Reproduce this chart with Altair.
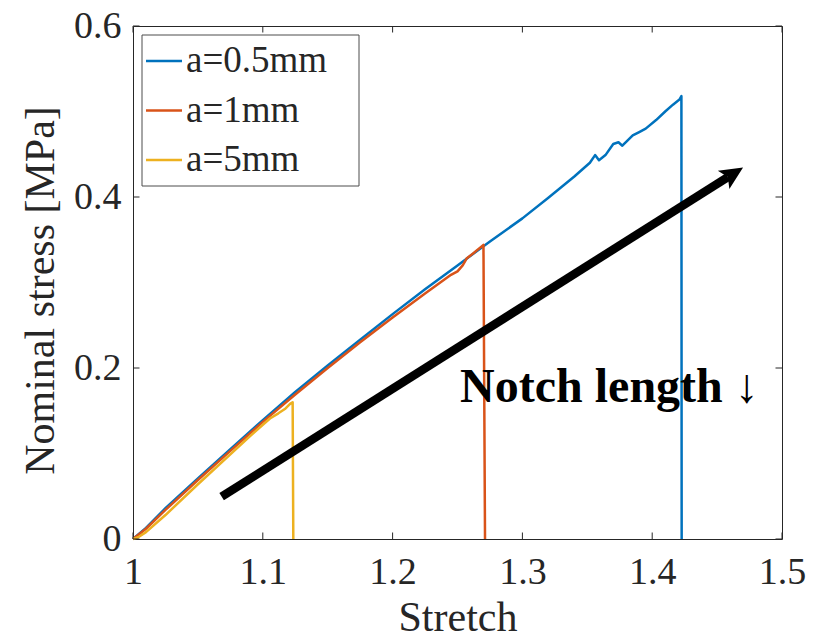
import math

import altair as alt
import pandas as pd

# ---------------------------------------------------------------- data
series = ["a=0.5mm", "a=1mm", "a=5mm"]
colors = ["#0072BD", "#D95319", "#EDB120"]

stretch_05 = [1.000, 1.010, 1.025, 1.050, 1.075, 1.100, 1.125, 1.150, 1.175,
              1.200, 1.225, 1.250, 1.275, 1.300, 1.320, 1.340, 1.352, 1.356,
              1.359, 1.364, 1.370, 1.374, 1.377, 1.385, 1.390, 1.395, 1.403,
              1.410, 1.416, 1.421, 1.4225, 1.4227]
stress_05 = [0.000, 0.013, 0.036, 0.071, 0.105, 0.139, 0.172, 0.203, 0.233,
             0.263, 0.292, 0.320, 0.348, 0.375, 0.399, 0.424, 0.440, 0.449,
             0.443, 0.449, 0.462, 0.464, 0.460, 0.472, 0.476, 0.480, 0.490,
             0.500, 0.508, 0.514, 0.518, 0.000]

stretch_1 = [1.000, 1.010, 1.025, 1.050, 1.075, 1.100, 1.125, 1.150, 1.175,
             1.200, 1.225, 1.245, 1.250, 1.254, 1.257, 1.262, 1.270, 1.2712]
stress_1 = [0.000, 0.012, 0.034, 0.069, 0.103, 0.137, 0.169, 0.200, 0.230,
            0.259, 0.287, 0.309, 0.313, 0.320, 0.328, 0.334, 0.344, 0.000]

stretch_5 = [1.000, 1.004, 1.010, 1.025, 1.050, 1.075, 1.090, 1.1055, 1.112,
             1.117, 1.121, 1.1230, 1.1235]
stress_5 = [0.000, 0.002, 0.008, 0.028, 0.064, 0.099, 0.120, 0.141, 0.147,
            0.152, 0.158, 0.160, 0.000]

x_ticks = [1.0, 1.1, 1.2, 1.3, 1.4, 1.5]
y_ticks = [0.0, 0.2, 0.4, 0.6]

arrow_tail = (1.0683, 0.0495)
arrow_tip = (1.470, 0.4345)
note_text = "Notch length ↓"
note_pos = (1.252, 0.1606)

# ---------------------------------------------------------------- layout
W, H = 649, 513
X_DOM = [1.0, 1.5]
Y_DOM = [0.0, 0.6]
FONT = "Liberation Serif"
TXT = "#262626"
TICK_LEN = 6.5
X_TITLE = "Stretch"
Y_TITLE = "Nominal stress [MPa]"

px_x = W / (X_DOM[1] - X_DOM[0])
px_y = H / (Y_DOM[1] - Y_DOM[0])


def data_x(px):
    return X_DOM[0] + px / px_x


def data_y(py):
    return Y_DOM[1] - py / px_y


xs = alt.Scale(domain=X_DOM, nice=False, zero=False)
ys = alt.Scale(domain=Y_DOM, nice=False, zero=False)
color_enc = alt.Color("series:N", scale=alt.Scale(domain=series, range=colors),
                      legend=None)

x_axis = alt.Axis(values=x_ticks, format="~g", domain=False, ticks=False,
                  tickSize=0, grid=False, labelFont=FONT, labelFontSize=38,
                  labelColor=TXT, labelPadding=44, labelBaseline="alphabetic",
                  labelFlush=False, labelOverlap=False, titleFont=FONT,
                  titleFontSize=42, titleFontWeight="normal", titleColor=TXT,
                  titleX=W / 2, titleY=91, titleBaseline="alphabetic")
y_axis = alt.Axis(values=y_ticks, format="~g", domain=False, ticks=False,
                  tickSize=0, grid=False, labelFont=FONT, labelFontSize=38,
                  labelColor=TXT, labelPadding=12, labelBaseline="middle",
                  labelOverlap=False, titleFont=FONT, titleFontSize=42,
                  titleFontWeight="normal", titleColor=TXT, titleX=-80,
                  titleY=264, titleBaseline="alphabetic", titleAngle=270)


def X(field):
    return alt.X(field, scale=xs, axis=x_axis, title=X_TITLE)


def Y(field):
    return alt.Y(field, scale=ys, axis=y_axis, title=Y_TITLE)


# ---------------------------------------------------------------- curves
rows = []
for name, sx, sy in zip(series, [stretch_05, stretch_1, stretch_5],
                        [stress_05, stress_1, stress_5]):
    for i, (a, b) in enumerate(zip(sx, sy)):
        rows.append({"series": name, "stretch": a, "stress": b, "idx": i})
curve_df = pd.DataFrame(rows)

curves = alt.Chart(curve_df).mark_line(strokeWidth=2.5, strokeJoin="round").encode(
    x=X("stretch:Q"), y=Y("stress:Q"), color=color_enc,
    order=alt.Order("idx:Q"))

# ---------------------------------------------------------------- inward ticks on all four sides
xt = alt.Chart(pd.DataFrame({"t": x_ticks})).mark_rule(color=TXT, strokeWidth=1)
yt = alt.Chart(pd.DataFrame({"t": y_ticks})).mark_rule(color=TXT, strokeWidth=1)
ticks = [
    xt.encode(x=X("t:Q"), y=alt.value(H), y2=alt.value(H - TICK_LEN)),
    xt.encode(x=X("t:Q"), y=alt.value(0), y2=alt.value(TICK_LEN)),
    yt.encode(y=Y("t:Q"), x=alt.value(0), x2=alt.value(TICK_LEN)),
    yt.encode(y=Y("t:Q"), x=alt.value(W), x2=alt.value(W - TICK_LEN)),
]

# ---------------------------------------------------------------- arrow and note
dxp = (arrow_tip[0] - arrow_tail[0]) * px_x
dyp = (arrow_tip[1] - arrow_tail[1]) * px_y
theta = math.atan2(dyp, dxp)
back = 18.0
shaft_end = (arrow_tip[0] - back * math.cos(theta) / px_x,
             arrow_tip[1] - back * math.sin(theta) / px_y)
shaft_df = pd.DataFrame({"x": [arrow_tail[0]], "y": [arrow_tail[1]],
                         "x2": [shaft_end[0]], "y2": [shaft_end[1]]})
shaft = alt.Chart(shaft_df).mark_rule(color="black", strokeWidth=8.5,
                                      strokeCap="butt").encode(
    x=X("x:Q"), y=Y("y:Q"), x2="x2:Q", y2="y2:Q")

HEAD = "M0,0L-2.3,-1.08L-1.8,0L-2.3,1.08Z"
head = alt.Chart(pd.DataFrame({"x": [arrow_tip[0]], "y": [arrow_tip[1]]})).mark_point(
    shape=HEAD, size=400, filled=True, fill="black", opacity=1, strokeWidth=0,
    angle=(360 - math.degrees(theta)) % 360).encode(x=X("x:Q"), y=Y("y:Q"))

note = alt.Chart(pd.DataFrame({"x": [note_pos[0]], "y": [note_pos[1]],
                               "s": [note_text]})).mark_text(
    align="left", baseline="alphabetic", font=FONT, fontSize=48,
    fontWeight="bold", color="black").encode(x=X("x:Q"), y=Y("y:Q"), text="s:N")

# ---------------------------------------------------------------- boxed legend, upper-left
LEG_L, LEG_T, LEG_R, LEG_B = 9, 9, 226, 160
ROW0, ROW_STEP = 35, 49.5
leg_df = pd.DataFrame({"series": series, "row": range(len(series))})
leg_df["ly"] = [data_y(ROW0 + ROW_STEP * r) for r in leg_df["row"]]
leg_df["x1"] = data_x(LEG_L + 4)
leg_df["x2"] = data_x(LEG_L + 40)
leg_df["tx"] = data_x(LEG_L + 44)

leg_box = alt.Chart(pd.DataFrame({"k": [0]})).mark_rect(
    fill="white", stroke="#4d4d4d", strokeWidth=1).encode(
    x=alt.value(LEG_L), x2=alt.value(LEG_R), y=alt.value(LEG_T),
    y2=alt.value(LEG_B))
leg_lines = alt.Chart(leg_df).mark_rule(strokeWidth=2.5).encode(
    x=X("x1:Q"), x2="x2:Q", y=Y("ly:Q"), color=color_enc)
leg_text = alt.Chart(leg_df).mark_text(
    align="left", baseline="middle", font=FONT, fontSize=37, color=TXT).encode(
    x=X("tx:Q"), y=Y("ly:Q"), text="series:N")

chart = alt.layer(
    curves, *ticks, shaft, head, note, leg_box, leg_lines, leg_text
).properties(
    width=W, height=H,
    autosize=alt.AutoSizeParams(type="none"),
    padding={"left": 133, "top": 26, "right": 37, "bottom": 98},
    background="white",
).configure_view(stroke=TXT, strokeWidth=1)

chart.save("out.html", embed_options={"renderer": "svg", "actions": False})
